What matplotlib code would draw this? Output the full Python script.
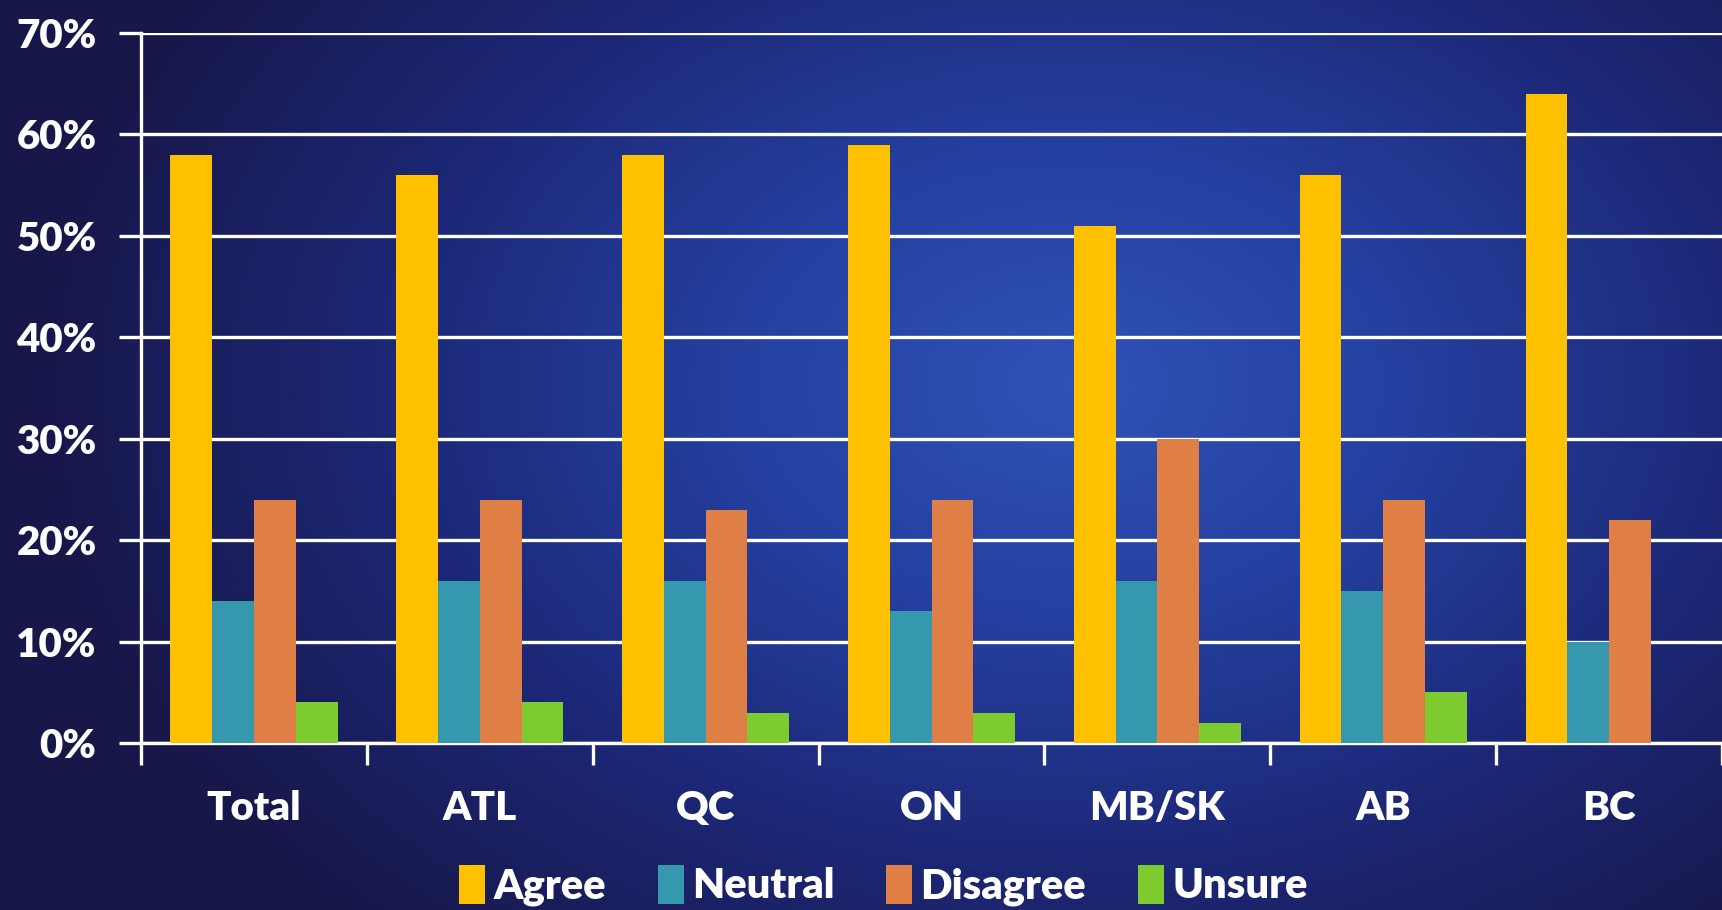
import numpy as np
import matplotlib
matplotlib.use("Agg")
import matplotlib.pyplot as plt
from matplotlib.colors import LinearSegmentedColormap
from matplotlib.patches import Patch

# survey data (percent)
regions = ["Total", "ATL", "QC", "ON", "MB/SK", "AB", "BC"]
agree = [58, 56, 58, 59, 51, 56, 64]
neutral = [14, 16, 16, 13, 16, 15, 10]
disagree = [24, 24, 23, 24, 30, 24, 22]
unsure = [4, 4, 3, 3, 2, 5, 0]

series = ["Agree", "Neutral", "Disagree", "Unsure"]
colors = ["#FFC000", "#3598AE", "#E07F45", "#7DCB2E"]
yticks = [0, 10, 20, 30, 40, 50, 60, 70]

plt.rcParams["font.family"] = ["Lato", "DejaVu Sans"]

fig = plt.figure(figsize=(17.22, 9.10), dpi=100)

# background gradient, dark navy edges with a lighter blue glow
bg = fig.add_axes([0, 0, 1, 1], zorder=0)
h, w = 182, 344
yy, xx = np.mgrid[0:h, 0:w]
d = np.sqrt(((xx - w * 0.62) / (w * 0.6)) ** 2 + ((yy - h * 0.42) / (h * 0.8)) ** 2)
d = np.clip(d, 0, 1)
cmap = LinearSegmentedColormap.from_list("bg", ["#3052b8", "#243f9e", "#1c2775", "#18174a"])
bg.imshow(d, cmap=cmap, aspect="auto", extent=[0, 1, 0, 1], interpolation="bilinear")
bg.axis("off")

ax = fig.add_axes([0.0819, 0.1835, 0.9181, 0.7802], zorder=1)
ax.patch.set_alpha(0)

x = np.arange(len(regions))
bw = 0.185
data = [agree, neutral, disagree, unsure]
for i, (name, vals, c) in enumerate(zip(series, data, colors)):
    ax.bar(x + (i - 1.5) * bw, vals, bw, color=c, label=name, zorder=3)

ax.set_xlim(-0.5, len(regions) - 0.5)
ax.set_ylim(0, 70)
ax.set_yticks(yticks)
ax.set_yticklabels([f"{v}%" for v in yticks])
ax.yaxis.grid(True, color="white", linewidth=2.4, zorder=1)
ax.set_axisbelow(True)

ax.set_xticks(x)
ax.set_xticklabels(regions)
ax.set_xticks(np.arange(len(regions) + 1) - 0.5, minor=True)
ax.tick_params(axis="x", which="major", length=0, pad=34, labelsize=29, labelcolor="white")
ax.tick_params(axis="x", which="minor", length=16, width=2.4, color="white")
ax.tick_params(axis="y", length=16, width=2.4, color="white", labelsize=29,
               labelcolor="white", pad=16)
for lab in ax.get_xticklabels() + ax.get_yticklabels():
    lab.set_fontweight("heavy")

for s in ["top", "right"]:
    ax.spines[s].set_visible(False)
for s in ["left", "bottom"]:
    ax.spines[s].set_color("white")
    ax.spines[s].set_linewidth(2.4)

handles = [Patch(facecolor=c, label=n) for n, c in zip(series, colors)]
leg = fig.legend(handles=handles, loc="center", bbox_to_anchor=(0.513, 0.027),
                 ncol=4, frameon=False, handlelength=0.62, handleheight=1.05,
                 handletextpad=0.2, columnspacing=1.25,
                 prop={"size": 30, "weight": "heavy"})
for t in leg.get_texts():
    t.set_color("white")

fig.savefig("out.png", dpi=100)
